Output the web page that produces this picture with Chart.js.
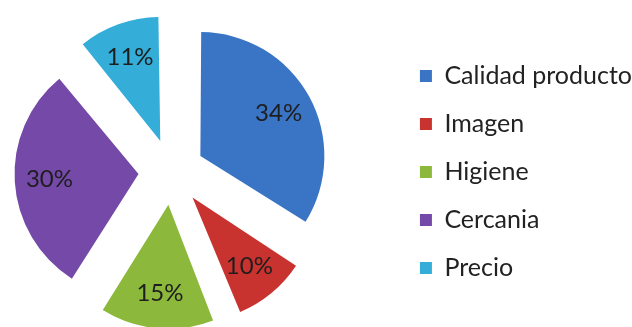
<!DOCTYPE html>
<html>
<head>
<meta charset="utf-8">
<script src="https://cdn.jsdelivr.net/npm/chart.js@4.4.0/dist/chart.umd.min.js"></script>
<style>
  html, body { margin: 0; padding: 0; background: #fff; overflow: hidden; width: 632px; height: 327px; }
  /* canvas um pouco mais largo que a janela para a pizza ficar mais a esquerda */
  #area_grafico { position: absolute; left: -54px; top: 0; width: 696px; height: 327px; }
</style>
</head>
<body>
<div id="area_grafico"><canvas id="grafico"></canvas></div>
<script>
var categorias = ['Calidad producto', 'Imagen', 'Higiene', 'Cercania', 'Precio'];
var porcentajes = [34, 10, 15, 30, 11];
var cores = ['#3A74C4', '#C9332F', '#8CB93B', '#7449A8', '#34ADD8'];

var RAIO = 124;
var DESLOCAMENTO = 33; // separacao das fatias, em px

// o ArcElement aumenta o raio das fatias pequenas quando tem offset; desfaz isso
var ajusteRaio = {
    id: 'ajusteRaio',
    afterDatasetsUpdate: function (chart) {
        var arcos = chart.getDatasetMeta(0).data;
        for (var i = 0; i < arcos.length; i++) {
            var fix = 1 - Math.sin(Math.min(Math.PI, arcos[i].circumference));
            arcos[i].outerRadius = RAIO - DESLOCAMENTO * fix;
        }
    }
};

// porcentagem escrita dentro de cada fatia
var rotulos = {
    id: 'rotulos',
    afterDatasetsDraw: function (chart) {
        var ctx = chart.ctx;
        var arcos = chart.getDatasetMeta(0).data;
        ctx.save();
        ctx.font = '24px Lato';
        ctx.fillStyle = '#1E1E1E';
        ctx.textAlign = 'center';
        ctx.textBaseline = 'middle';
        for (var i = 0; i < arcos.length; i++) {
            var a = arcos[i];
            var meio = (a.startAngle + a.endAngle) / 2;
            var dist = DESLOCAMENTO + RAIO * 0.72;
            ctx.fillText(porcentajes[i] + '%', a.x + Math.cos(meio) * dist, a.y + Math.sin(meio) * dist);
        }
        ctx.restore();
    }
};

window.grafico = new Chart(document.getElementById('grafico'), {
    type: 'pie',
    data: {
        labels: categorias,
        datasets: [{
            data: porcentajes,
            backgroundColor: cores,
            borderWidth: 0,
            offset: DESLOCAMENTO * 4, // o arco so desloca offset/4
            radius: RAIO,
            clip: false
        }]
    },
    options: {
        responsive: true,
        maintainAspectRatio: false,
        animation: false,
        layout: { padding: { left: 0, right: 0, top: 17, bottom: 0 } },
        plugins: {
            legend: {
                position: 'right',
                labels: {
                    font: { family: 'Lato', size: 25 },
                    color: '#222',
                    boxWidth: 12,
                    boxHeight: 12,
                    padding: 23
                }
            },
            tooltip: { enabled: false }
        }
    },
    plugins: [ajusteRaio, rotulos]
});
</script>
</body>
</html>
